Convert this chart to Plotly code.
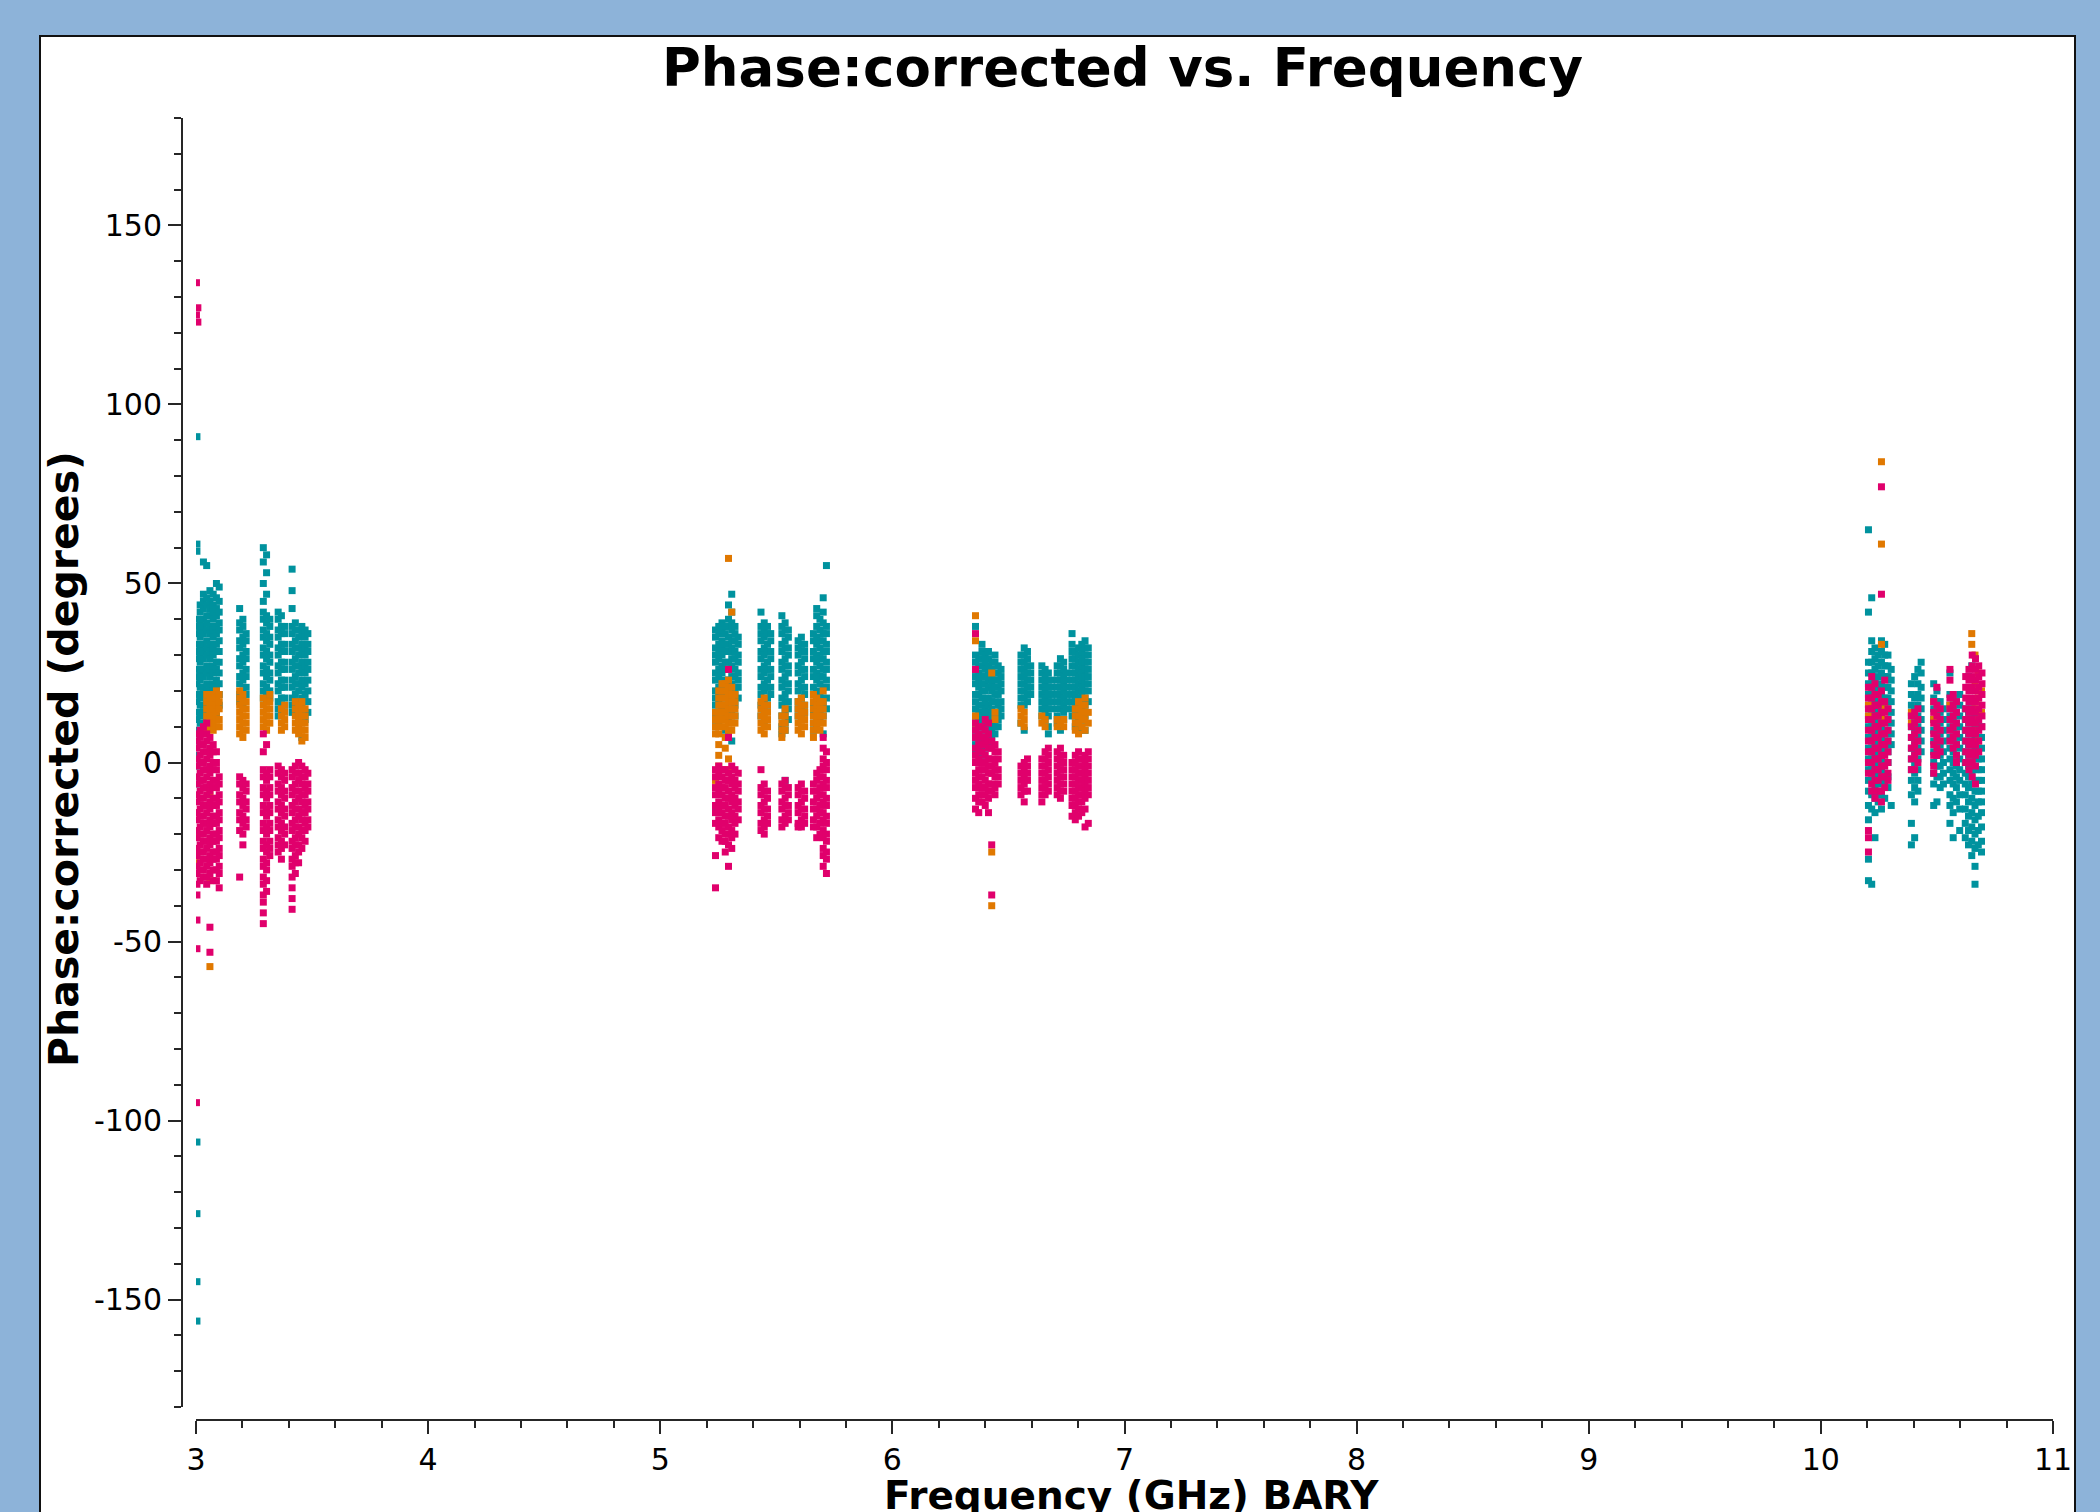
import plotly.graph_objects as go

# ---------------- data: (frequency in GHz, phase values in degrees) ----------------
teal_band1 = [
    (3.004, "91 61 59 40 38 36 33 31 29 26 24 22 19 17 14 12 9 6 2 -1 -6 -106 -126 -145 -156"),
    (3.018, "44 42 39 37 35 32 30 28 25 23 21 18 16 13 11 9"),
    (3.032, "56 47 45 43 40 38 36 33 31 29 26 24 21 19 16 14 11"),
    (3.046, "55 46 44 41 39 37 34 32 30 27 25 22 20 17 15 12 10"),
    (3.060, "48 45 43 41 38 36 33 31 29 26 24 21 19 16 14"),
    (3.074, "47 44 42 40 37 35 32 30 27 25 22 20 18 15 12"),
    (3.088, "50 46 43 41 38 36 33 31 28 26 23 21 18 16 13"),
    (3.100, "49 45 42 39 37 34 31 28 25 22 19 16"),
    (3.188, "43 39 37 34 32 29 27 24 22 19 17"),
    (3.202, "40 38 35 33 30 28 25 23 20 18 16"),
    (3.216, "36 34 31 29 26 24 21 19"),
    (3.290, "60 56 50 45 42 40 37 35 32 30 27 25 22 20 18"),
    (3.304, "58 53 47 41 39 36 34 31 29 26 24 21 19 17"),
    (3.318, "40 38 35 33 30 28 25 23 20 18"),
    (3.354, "42 40 37 35 32 30 27 25 22 20 17 15 13"),
    (3.368, "41 38 36 33 31 28 26 23 21 18 16 14"),
    (3.382, "38 36 33 31 28 26 23 21 18 16"),
    (3.414, "54 48 43 38 36 33 31 28 26 23 21 18 16 14"),
    (3.428, "39 37 34 32 29 27 24 22 19 17 15"),
    (3.442, "37 35 32 30 27 25 22 20 17 15 13"),
    (3.456, "38 36 33 31 28 26 23 21 18 16 13 7"),
    (3.470, "37 35 32 30 27 25 22 19 17 14 12"),
    (3.482, "36 33 31 28 26 23 20 17 14"),
]
teal_band2 = [
    (5.238, "37 35 32 30 28 25 23 20 18 16 13 10 -13"),
    (5.252, "38 36 33 31 29 26 24 21 19 17 14 11"),
    (5.266, "39 37 34 32 30 27 25 22 20 18 15"),
    (5.280, "38 36 33 31 28 26 23 21 19 16 13 9"),
    (5.294, "44 40 38 35 33 31 28 26 23 21 18 15 12 8"),
    (5.308, "47 42 39 37 34 32 29 27 24 22 20 17 14 6"),
    (5.322, "38 36 34 31 29 26 24 21 19 16 13"),
    (5.336, "35 33 30 28 25 23 21 18"),
    (5.434, "42 38 36 34 31 29 26 24 21 19 16 13"),
    (5.448, "39 37 35 32 30 27 25 22 20 17 14 11"),
    (5.462, "38 36 33 31 28 26 23 21 18 16"),
    (5.476, "36 34 31 29 26 24 21 19"),
    (5.524, "41 38 36 33 31 28 26 23 21 18 16 13 10 8"),
    (5.538, "39 37 34 32 29 27 24 22 19 17 14 11 9 -5"),
    (5.552, "37 35 32 30 27 25 22 20 17 15 12"),
    (5.594, "34 32 30 27 25 22 20 17 15 13"),
    (5.608, "35 33 31 28 26 23 21 18 16 14 12"),
    (5.622, "33 31 29 26 24 21 19 16 14"),
    (5.660, "36 34 31 29 26 24 21 19 16 14 11 9"),
    (5.674, "43 41 38 35 33 30 28 25 23 20 18 15 13 10"),
    (5.688, "40 37 34 32 29 27 24 22 19 17 14 12"),
    (5.702, "46 42 39 36 34 31 29 26 24 21 18 16 13 8"),
    (5.716, "55 38 36 33 31 28 26 23 21 18 15"),
]
teal_band3 = [
    (6.358, "38 30 28 26 24 22 19 17 15 13 11 9 7 5 3 0"),
    (6.372, "29 27 25 23 21 19 16 14 12 10 8 6 4"),
    (6.386, "33 31 29 27 24 22 20 18 16 14 12 10 7 5 2"),
    (6.400, "30 28 26 24 22 20 17 15 13 11 9 6 4"),
    (6.414, "31 29 27 25 23 21 18 16 14 12 10 8 5"),
    (6.428, "28 26 24 22 20 17 15 13 11 9 7"),
    (6.442, "30 28 25 23 21 19 17 14 12 10 8"),
    (6.456, "27 25 23 21 19 16 14 12 10"),
    (6.468, "26 24 22 20 17 15 13"),
    (6.554, "30 28 26 24 22 20 18 16 11"),
    (6.568, "32 30 28 26 24 22 20 18 16 9"),
    (6.582, "31 29 27 25 23 21 19 17"),
    (6.596, "27 25 23 21 19"),
    (6.644, "27 25 23 21 19 17 15 13"),
    (6.658, "26 24 22 20 18 16 14 12"),
    (6.672, "25 23 21 19 17 15 13 10 8"),
    (6.686, "23 21 19 17 15"),
    (6.710, "27 25 23 21 19 17 15 13 11"),
    (6.724, "29 27 25 23 21 19 17 15 12 9"),
    (6.738, "28 26 24 22 20 18 16 14 12"),
    (6.752, "25 23 21 19 17 15"),
    (6.774, "36 33 31 29 27 25 23 21 19 17 15 13"),
    (6.788, "31 29 27 25 23 21 19 17 15 13 10"),
    (6.802, "32 30 28 26 24 22 20 18 16 14 12 9"),
    (6.816, "33 31 29 27 25 23 21 19 17 15 12 10"),
    (6.830, "34 32 30 28 26 24 22 20 18 16 13 9"),
    (6.844, "32 30 28 26 24 22 20 17"),
]
teal_band4 = [
    (10.205, "65 42 28 25 22 19 16 13 10 7 4 1 -2 -5 -8 -12 -16 -27 -33"),
    (10.219, "46 34 31 28 25 22 19 16 13 10 7 4 1 -2 -5 -9 -13 -34"),
    (10.233, "32 29 26 23 20 17 14 11 8 5 2 -1 -4 -7 -10 -14 -21"),
    (10.247, "30 27 24 21 18 15 12 9 6 3 0 -3 -6 -9 -11"),
    (10.261, "34 31 28 25 22 19 16 13 10 7 4 1 -2 -5 -9 -13"),
    (10.275, "33 30 27 24 21 18 15 12 9 6 3 0 -3 -6 -10"),
    (10.289, "30 27 24 21 18 15 12 9 6 3 0 -4 -7"),
    (10.303, "26 23 20 17 14 11 8 5 -12"),
    (10.390, "22 19 16 13 10 7 4 1 -2 -5 -9 -17 -23"),
    (10.404, "24 18 15 12 9 6 3 0 -3 -7 -11 -21"),
    (10.418, "26 22 19 16 13 10 7 4 1 -2 -5 -8"),
    (10.432, "28 25 21 18 15 12 9 6 3"),
    (10.486, "22 18 15 12 9 6 3 0 -3 -6 -12"),
    (10.500, "20 17 14 11 8 5 2 -1 -4 -11"),
    (10.514, "17 14 11 8 5 2 -1 -4 -7"),
    (10.528, "15 12 9 6 3 0 -3 -6"),
    (10.556, "25 19 16 13 10 7 4 1 -2 -5 -9 -12 -17"),
    (10.570, "18 15 12 9 6 3 0 -3 -6 -10 -14 -21"),
    (10.584, "17 14 11 8 5 2 -1 -4 -7 -11"),
    (10.598, "19 16 13 10 7 4 1 -2 -5 -9 -13 -19"),
    (10.622, "15 12 9 6 3 0 -3 -6 -9 -13 -17 -21"),
    (10.636, "24 14 11 8 5 2 -1 -4 -7 -11 -15 -19 -23"),
    (10.650, "27 15 12 9 6 3 0 -3 -6 -10 -14 -18 -22 -26"),
    (10.664, "13 10 7 4 1 -2 -5 -8 -12 -16 -20 -24 -29 -34"),
    (10.678, "13 10 7 4 1 -2 -5 -8 -11 -15 -19 -23"),
    (10.692, "10 7 4 1 -2 -5 -8 -11 -14 -18 -22 -25"),
]

orange_band1 = [
    (3.004, "-14 -20 -25 -28"),
    (3.046, "19 17 15 13 11 9"),
    (3.060, "18 16 14 12 10 -9 -33 -57"),
    (3.074, "19 17 15 13 11 9"),
    (3.088, "20 18 16 14 12 10"),
    (3.100, "19 17 15 12 10"),
    (3.188, "20 18 16 14 12 10 8"),
    (3.202, "19 17 15 13 11 9 7"),
    (3.216, "17 15 13 11 9"),
    (3.290, "18 16 14 12 10"),
    (3.304, "17 15 13 11 9"),
    (3.318, "19 17 15 13 11"),
    (3.368, "15 13 11 9"),
    (3.382, "16 14 12 10"),
    (3.428, "17 15 13 11 9"),
    (3.442, "16 14 12 10 8"),
    (3.456, "17 15 13 11 9 6"),
    (3.470, "15 13 11 9 7"),
]
orange_band2 = [
    (5.238, "14 12 10 8 -5"),
    (5.252, "20 18 16 14 12 10 8 5 2 -1"),
    (5.266, "22 20 18 16 14 12 10"),
    (5.280, "22 20 18 16 14 12 10 7 4"),
    (5.294, "57 23 21 19 17 15 13 11 9 1 -2"),
    (5.308, "42 21 19 17 15 13 11 9"),
    (5.322, "19 17 15 13 11"),
    (5.434, "17 15 13 11 9"),
    (5.448, "18 16 14 12 10 8"),
    (5.462, "16 14 12 10"),
    (5.524, "13 11 9 7"),
    (5.538, "15 13 11 9"),
    (5.594, "17 15 13 11 9"),
    (5.608, "18 16 14 12 10 8"),
    (5.622, "16 14 12 10"),
    (5.660, "19 17 15 13 11 9 7"),
    (5.674, "18 16 14 12 10"),
    (5.688, "17 15 13 11 9"),
    (5.702, "20 17 15 13 11"),
]
orange_band3 = [
    (6.358, "41 34 13 11"),
    (6.428, "25 -25 -40"),
    (6.442, "14 12"),
    (6.554, "15 13 11"),
    (6.568, "14 12 10"),
    (6.644, "13 11"),
    (6.658, "12 10"),
    (6.710, "12 10"),
    (6.724, "11"),
    (6.738, "12 10"),
    (6.788, "15 13 11 9"),
    (6.802, "17 15 13 11 8"),
    (6.816, "16 14 12 10"),
    (6.830, "18 16 14 12 9"),
    (6.844, "14 11"),
]
orange_band4 = [
    (10.205, "16 13"),
    (10.261, "84 61 33 17 14 11"),
    (10.275, "15 12"),
    (10.390, "14 11"),
    (10.486, "17 12"),
    (10.556, "16"),
    (10.650, "36 33"),
    (10.664, "30 22 15 9"),
    (10.678, "25 18 12 6"),
    (10.692, "20 14"),
]

magenta_band1 = [
    (3.002, "134 125 -95"),
    (3.008, "127 123"),
    (3.004, "8 6 4 1 -1 -4 -6 -9 -11 -14 -16 -19 -21 -24 -26 -29 -31 -34 -37 -44 -52"),
    (3.018, "9 7 5 2 0 -3 -5 -8 -10 -13 -15 -18 -20 -23 -25 -28 -30 -33"),
    (3.032, "10 8 5 3 0 -2 -5 -7 -10 -12 -15 -17 -20 -22 -25 -27 -30 -32"),
    (3.046, "11 8 6 3 1 -2 -4 -7 -9 -12 -14 -17 -19 -22 -24 -27 -29 -32 -34"),
    (3.060, "7 4 2 -1 -3 -6 -8 -11 -13 -16 -18 -21 -23 -26 -28 -31 -46 -53"),
    (3.074, "5 3 0 -2 -5 -7 -10 -12 -15 -17 -20 -22 -25 -27 -30 -33"),
    (3.088, "3 0 -2 -5 -7 -10 -12 -15 -17 -20 -22 -25 -27 -30 -33"),
    (3.100, "-4 -6 -9 -11 -14 -16 -19 -21 -24 -26 -29 -31 -35"),
    (3.188, "-4 -6 -9 -11 -14 -16 -19 -32"),
    (3.202, "-5 -7 -10 -12 -15 -17 -20 -23"),
    (3.216, "-6 -8 -11 -13 -16 -18"),
    (3.290, "8 3 -2 -4 -7 -9 -12 -14 -17 -19 -22 -24 -27 -29 -32 -34 -37 -39 -42 -45"),
    (3.304, "5 -3 -5 -8 -10 -13 -15 -18 -20 -23 -25 -28 -30 -33 -36"),
    (3.318, "-2 -4 -7 -9 -12 -14 -17 -19 -22 -24 -26"),
    (3.354, "-1 -3 -6 -8 -11 -13 -16 -18 -21 -23 -25"),
    (3.368, "-2 -4 -7 -9 -12 -14 -17 -19 -22 -24 -27"),
    (3.382, "-3 -5 -8 -10 -13 -15 -18 -20 -23"),
    (3.414, "-2 -4 -7 -9 -12 -14 -17 -19 -22 -24 -27 -29 -32 -35 -38 -41"),
    (3.428, "-1 -3 -6 -8 -11 -13 -16 -18 -21 -23 -26 -28 -31"),
    (3.442, "0 -3 -5 -8 -10 -13 -15 -18 -20 -23 -25 -28"),
    (3.456, "-1 -4 -6 -9 -11 -14 -16 -19 -21 -24"),
    (3.470, "-2 -4 -7 -9 -12 -14 -17 -19 -22"),
    (3.482, "-3 -6 -8 -11 -13 -16 -18"),
]
magenta_band2 = [
    (5.238, "-2 -4 -7 -9 -12 -14 -17 -26 -35"),
    (5.252, "-1 -3 -6 -8 -11 -13 -16 -18 -21"),
    (5.266, "-2 -4 -7 -9 -12 -14 -17 -19 -22"),
    (5.280, "-2 -5 -7 -10 -12 -15 -17 -20 -22 -25"),
    (5.294, "26 7 -3 -5 -8 -10 -13 -15 -18 -20 -23 -29"),
    (5.308, "-1 -4 -6 -9 -11 -14 -16 -19 -21 -24"),
    (5.322, "-2 -5 -7 -10 -12 -15 -17 -20"),
    (5.336, "-3 -6 -8 -11 -13 -16"),
    (5.434, "-2 -7 -9 -12 -14 -17 -19"),
    (5.448, "-6 -8 -11 -13 -16 -18 -20"),
    (5.462, "-8 -10 -13 -15 -17"),
    (5.524, "-6 -8 -11 -13 -16 -18"),
    (5.538, "-5 -7 -10 -12 -15 -17"),
    (5.552, "-7 -9 -12 -14 -16"),
    (5.594, "-7 -9 -12 -14 -17 -18"),
    (5.608, "-6 -8 -11 -13 -16 -18"),
    (5.622, "-8 -10 -13 -15 -17"),
    (5.660, "-6 -8 -11 -13 -16 -18"),
    (5.674, "-3 -5 -8 -10 -13 -15 -18 -21"),
    (5.688, "-2 -4 -7 -9 -12 -14 -17 -20"),
    (5.702, "7 4 1 -1 -4 -6 -9 -11 -14 -16 -19 -21 -24 -26 -29"),
    (5.716, "3 0 -2 -5 -7 -10 -12 -15 -17 -20 -22 -25 -27 -31"),
]
magenta_band3 = [
    (6.358, "36 26 11 9 7 4 2 0 -3 -5 -7 -10 -13"),
    (6.372, "10 8 5 3 1 -2 -4 -6 -9 -11 -14"),
    (6.386, "10 7 5 3 0 -2 -4 -7 -9 -11"),
    (6.400, "12 9 7 5 2 0 -2 -5 -7 -9 -12"),
    (6.414, "11 8 6 4 1 -1 -3 -6 -8 -10 -14"),
    (6.428, "6 4 1 -1 -3 -6 -8 -23 -37"),
    (6.442, "5 3 0 -2 -4 -7 -9"),
    (6.456, "3 1 -2 -4 -6"),
    (6.554, "-1 -3 -5 -7 -9"),
    (6.568, "0 -2 -4 -6 -8 -11"),
    (6.582, "1 -1 -3 -5 -8"),
    (6.644, "1 -1 -3 -5 -7 -9 -11"),
    (6.658, "3 1 -1 -3 -5 -7 -9"),
    (6.672, "4 2 0 -2 -4 -6 -8"),
    (6.710, "3 1 -1 -3 -5 -7 -9"),
    (6.724, "4 2 0 -2 -4 -6 -8 -10"),
    (6.738, "2 0 -2 -4 -6 -8"),
    (6.774, "0 -2 -4 -6 -8 -10 -12 -15"),
    (6.788, "2 0 -2 -4 -6 -8 -10 -12 -14 -16"),
    (6.802, "3 1 -1 -3 -5 -7 -9 -11 -13 -15"),
    (6.816, "1 -1 -3 -5 -7 -9 -11 -14"),
    (6.830, "2 0 -2 -4 -6 -8 -10 -13 -18"),
    (6.844, "3 1 -1 -3 -5 -7 -9 -17"),
]
magenta_band4 = [
    (10.205, "21 18 15 12 9 6 3 0 -3 -19 -21 -25"),
    (10.219, "24 21 18 15 12 9 6 3 0 -3 -6 -8"),
    (10.233, "22 19 16 13 10 7 4 1 -2 -5 -8 -10"),
    (10.247, "19 16 13 10 7 4 1 -2 -5 -8"),
    (10.261, "77 47 20 17 14 11 8 5 2 -1 -4 -8 -11"),
    (10.275, "23 17 14 11 8 5 2 -1 -4 -7"),
    (10.289, "15 12 9 6 3 0 -3 -5"),
    (10.390, "13 10 7 4 1 -2"),
    (10.404, "14 11 8 5 2 -2"),
    (10.418, "15 12 9 6 3 0"),
    (10.486, "17 14 11 8 5 2 -1 -3"),
    (10.500, "21 16 13 10 7 4 2"),
    (10.514, "15 12 9 6 3"),
    (10.556, "26 23 18 15 12 9 6"),
    (10.570, "19 16 13 10 7 4"),
    (10.584, "17 14 11 8 5 2 0"),
    (10.624, "24 21 18 15 12 9 6 3 0"),
    (10.638, "26 23 20 17 14 11 8 5 2 -2"),
    (10.652, "30 27 24 21 18 15 12 9 6 3 0 -4"),
    (10.666, "29 26 23 20 17 14 11 8 5 2 -1 -6"),
    (10.680, "27 24 21 18 15 12 9 6 3"),
    (10.694, "25 22 19 16 13 10"),
]

y_tick_values = [-150, -100, -50, 0, 50, 100, 150]
y_tick_labels = ["-150", "-100", "-50", "0", "50", "100", "150"]
x_tick_values = [3, 4, 5, 6, 7, 8, 9, 10, 11]
x_tick_labels = ["3", "4", "5", "6", "7", "8", "9", "10", "11"]

TEAL = "#00929e"
ORANGE = "#e07800"
MAGENTA = "#e0006c"


def flatten(*bands):
    xs, ys = [], []
    for band in bands:
        for freq, vals in band:
            for v in vals.split():
                xs.append(freq)
                ys.append(float(v))
    return xs, ys


fig = go.Figure()
for color, bands in [
    (TEAL, (teal_band1, teal_band2, teal_band3, teal_band4)),
    (ORANGE, (orange_band1, orange_band2, orange_band3, orange_band4)),
    (MAGENTA, (magenta_band1, magenta_band2, magenta_band3, magenta_band4)),
]:
    xs, ys = flatten(*bands)
    fig.add_trace(go.Scatter(
        x=xs, y=ys, mode="markers",
        marker=dict(symbol="square", size=7, color=color, line=dict(width=0)),
        hoverinfo="skip",
    ))

# plot area in pixels: x 182..2053, y 118..1420
L, R, T, B = 182, 2053, 118, 1420
W, H = R - L, B - T


def px(xp):
    return (xp - L) / W


def py(yp):
    return (B - yp) / H


AX = "#262626"
FONT = "DejaVu Sans"

fig.update_layout(
    width=2100, height=1512,
    margin=dict(l=L, r=2100 - R, t=T, b=1512 - B, pad=0),
    paper_bgcolor="#8db3d9",
    plot_bgcolor="white",
    showlegend=False,
    font=dict(family=FONT, color="black"),
    xaxis=dict(
        domain=[px(196), 1], range=[3, 11], anchor="free", position=0,
        showgrid=False, zeroline=False, showline=True, linecolor=AX, linewidth=2,
        tickmode="array", tickvals=x_tick_values, ticktext=x_tick_labels,
        ticks="outside", ticklen=13, tickwidth=2, tickcolor=AX,
        tickfont=dict(family=FONT, size=30, color="black"),
        minor=dict(tickmode="array", tickvals=[3 + 0.2 * i for i in range(41)],
                   ticks="outside", ticklen=7, tickwidth=2, tickcolor=AX, showgrid=False),
    ),
    yaxis=dict(
        domain=[py(1407), 1], range=[-180, 180], anchor="free", position=0,
        showgrid=False, zeroline=False, showline=True, linecolor=AX, linewidth=2,
        tickmode="array", tickvals=y_tick_values, ticktext=y_tick_labels,
        ticks="outside", ticklen=13, tickwidth=2, tickcolor=AX,
        tickfont=dict(family=FONT, size=30, color="black"),
        minor=dict(tickmode="array", tickvals=[-180 + 10 * i for i in range(37)],
                   ticks="outside", ticklen=7, tickwidth=2, tickcolor=AX, showgrid=False),
    ),
    shapes=[dict(
        type="rect", xref="paper", yref="paper", layer="below",
        x0=px(40), x1=px(2075), y0=py(1560), y1=py(36),
        fillcolor="white", line=dict(color="#111111", width=2),
    )],
    annotations=[
        dict(text="<b>Phase:corrected vs. Frequency</b>", xref="paper", yref="paper",
             x=px(1122), y=py(68), xanchor="center", yanchor="middle", showarrow=False,
             font=dict(family=FONT, size=53, color="black")),
        dict(text="<b>Phase:corrected (degrees)</b>", xref="paper", yref="paper",
             x=px(64), y=py(759), xanchor="center", yanchor="middle", showarrow=False,
             textangle=-90, font=dict(family=FONT, size=41, color="black")),
        dict(text="<b>Frequency (GHz) BARY</b>", xref="paper", yref="paper",
             x=px(1131), y=py(1495), xanchor="center", yanchor="middle", showarrow=False,
             font=dict(family=FONT, size=39, color="black")),
    ],
)

fig.write_html("out.html")
